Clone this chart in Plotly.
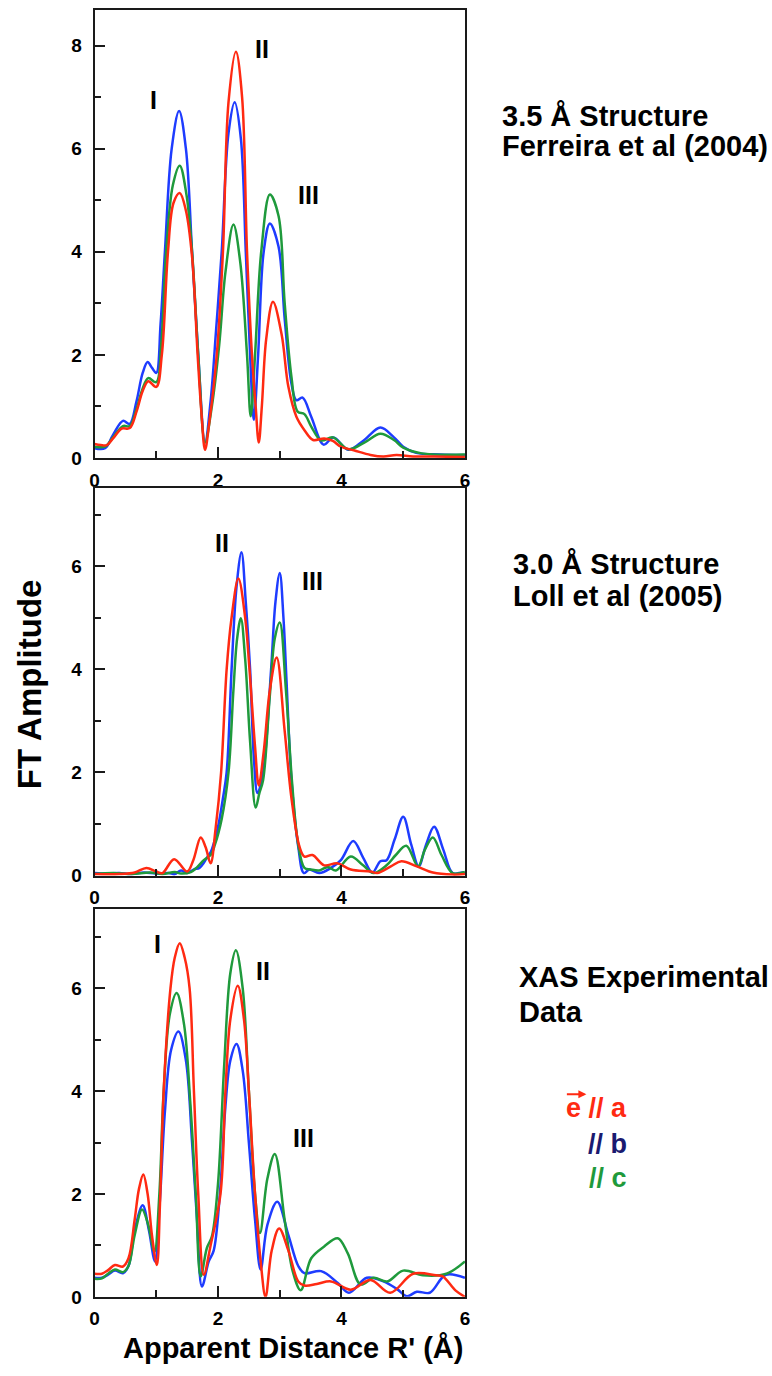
import plotly.graph_objects as go

W, H = 772, 1376

RED = "#ff2a12"
BLUE = "#1e3cff"
GREEN = "#1f9a3c"
NAVY = "#1a1a70"
INK = "#1a1a1a"

# ---------------- 3.5 Å structure (Ferreira et al 2004) ----------------
s35_a_r = [0, 0.1, 0.2, 0.3, 0.44, 0.57, 0.68, 0.78, 0.87, 1.0, 1.09, 1.19, 1.28, 1.38,
           1.48, 1.58, 1.67, 1.73, 1.79, 1.86, 1.98, 2.08, 2.17, 2.29, 2.39, 2.47, 2.55,
           2.61, 2.66, 2.71, 2.78, 2.89, 3.03, 3.14, 3.27, 3.4, 3.54, 3.72, 3.86, 3.99,
           4.2, 4.47, 4.68, 4.89, 5.16, 5.5, 6.0]
s35_a_amp = [0.27, 0.25, 0.25, 0.38, 0.57, 0.58, 0.9, 1.3, 1.49, 1.38, 2.0, 4.0, 4.95, 5.14,
             4.8, 3.9, 2.0, 0.9, 0.16, 0.7, 2.0, 4.0, 6.9, 7.88, 7.0, 4.0, 2.0,
             1.0, 0.3, 1.0, 2.3, 3.03, 2.4, 1.38, 0.8, 0.54, 0.35, 0.38, 0.33, 0.22,
             0.15, 0.06, 0.03, 0.06, 0.03, 0.03, 0.02]

s35_b_r = [0, 0.17, 0.3, 0.46, 0.57, 0.68, 0.78, 0.86, 0.93, 1.0, 1.07, 1.14, 1.25, 1.37,
           1.48, 1.58, 1.68, 1.79, 1.88, 1.97, 2.06, 2.17, 2.27, 2.37, 2.45, 2.52, 2.58,
           2.65, 2.74, 2.84, 2.98, 3.08, 3.19, 3.27, 3.37, 3.51, 3.71, 3.87, 4.11, 4.37,
           4.63, 4.85, 5.0, 5.21, 5.6, 6.0]
s35_b_amp = [0.19, 0.19, 0.45, 0.72, 0.66, 1.1, 1.65, 1.86, 1.75, 1.65, 2.6, 4.0, 6.0, 6.73,
             6.0, 4.0, 2.0, 0.3, 1.1, 2.5, 4.0, 6.3, 6.9, 6.2, 4.0, 2.0, 0.74,
             2.0, 4.0, 4.55, 4.1, 2.7, 1.44, 1.12, 1.17, 0.8, 0.26, 0.4, 0.16, 0.35,
             0.59, 0.4, 0.22, 0.1, 0.07, 0.06]

s35_c_r = [0, 0.17, 0.3, 0.46, 0.57, 0.68, 0.78, 0.87, 1.0, 1.08, 1.16, 1.27, 1.38, 1.49,
           1.58, 1.68, 1.79, 1.9, 2.02, 2.12, 2.25, 2.36, 2.47, 2.53, 2.6, 2.7, 2.84,
           2.98, 3.08, 3.19, 3.29, 3.4, 3.51, 3.67, 3.86, 4.11, 4.37, 4.63, 4.85, 5.0,
           5.3, 6.0]
s35_c_amp = [0.22, 0.22, 0.4, 0.62, 0.62, 0.95, 1.35, 1.55, 1.47, 2.2, 4.0, 5.3, 5.67, 5.1,
             4.0, 2.0, 0.3, 1.0, 2.2, 3.6, 4.53, 3.8, 2.0, 0.81, 2.0, 4.0, 5.11,
             4.7, 3.0, 1.57, 0.9, 0.85, 0.61, 0.34, 0.4, 0.17, 0.3, 0.47, 0.35, 0.2,
             0.09, 0.07]

# ---------------- 3.0 Å structure (Loll et al 2005) ----------------
s30_a_r = [0, 0.4, 0.65, 0.84, 1.0, 1.1, 1.29, 1.5, 1.6, 1.72, 1.8, 1.88, 1.96, 2.05,
           2.14, 2.22, 2.33, 2.44, 2.51, 2.6, 2.66, 2.74, 2.84, 2.95, 3.08, 3.19, 3.32,
           3.4, 3.53, 3.72, 3.93, 4.15, 4.47, 4.58, 4.8, 4.97, 5.22, 5.48, 5.8, 6.0]
s30_a_amp = [0.03, 0.03, 0.06, 0.15, 0.08, 0.05, 0.32, 0.08, 0.3, 0.74, 0.55, 0.24, 0.9, 2.0,
             4.0, 5.0, 5.76, 5.0, 4.0, 2.5, 1.75, 2.4, 3.6, 4.23, 2.8, 1.5, 0.56,
             0.37, 0.4, 0.2, 0.24, 0.12, 0.08, 0.05, 0.18, 0.28, 0.18, 0.06, 0.02, 0.03]

s30_b_r = [0, 0.2, 0.4, 0.6, 0.8, 1.0, 1.2, 1.3, 1.4, 1.5, 1.61, 1.7, 1.77, 1.82, 1.88,
           1.95, 2.01, 2.08, 2.14, 2.22, 2.3, 2.38, 2.45, 2.52, 2.58, 2.64, 2.73, 2.86,
           2.93, 3.0, 3.06, 3.11, 3.19, 3.3, 3.39, 3.48, 3.64, 3.83, 3.99, 4.19, 4.35,
           4.5, 4.63, 4.73, 4.86, 5.0, 5.13, 5.25, 5.37, 5.5, 5.65, 5.8, 5.96, 6.0]
s30_b_amp = [0.05, 0.04, 0.05, 0.03, 0.06, 0.04, 0.05, 0.03, 0.1, 0.05, 0.12, 0.15, 0.25, 0.35, 0.45,
             0.7, 1.0, 1.5, 2.0, 4.0, 5.6, 6.27, 5.3, 4.0, 2.3, 1.6, 2.0, 4.0,
             5.3, 5.87, 5.0, 3.77, 1.85, 0.56, 0.05, 0.12, 0.05, 0.15, 0.3, 0.67, 0.35,
             0.06, 0.28, 0.3, 0.7, 1.14, 0.6, 0.18, 0.6, 0.95, 0.5, 0.05, 0.06, 0.04]

s30_c_r = [0, 0.3, 0.6, 0.9, 1.1, 1.3, 1.4, 1.56, 1.65, 1.77, 1.88, 1.95, 2.06, 2.17,
           2.25, 2.31, 2.37, 2.44, 2.52, 2.61, 2.67, 2.73, 2.84, 2.92, 3.0, 3.1, 3.2,
           3.3, 3.4, 3.5, 3.64, 3.78, 3.91, 4.15, 4.35, 4.52, 4.73, 4.88, 5.05, 5.24,
           5.35, 5.48, 5.62, 5.8, 6.0]
s30_c_amp = [0.03, 0.05, 0.03, 0.06, 0.03, 0.07, 0.04, 0.07, 0.15, 0.3, 0.4, 0.6, 1.1, 2.0,
             3.6, 4.6, 4.99, 4.2, 2.6, 1.32, 1.6, 1.85, 3.5, 4.6, 4.91, 3.6, 1.8,
             0.6, 0.15, 0.12, 0.1, 0.17, 0.1, 0.37, 0.2, 0.05, 0.2, 0.4, 0.58, 0.18,
             0.5, 0.74, 0.4, 0.05, 0.07]

# ---------------- XAS experimental data ----------------
xas_a_r = [0, 0.12, 0.22, 0.33, 0.46, 0.55, 0.65, 0.72, 0.79, 0.86, 0.93, 1.01, 1.06, 1.12,
           1.23, 1.3, 1.38, 1.46, 1.54, 1.61, 1.68, 1.77, 1.88, 2.04, 2.12, 2.2, 2.32,
           2.42, 2.5, 2.6, 2.69, 2.77, 2.87, 2.99, 3.14, 3.3, 3.4, 3.6, 3.83, 4.15,
           4.47, 4.79, 5.16, 5.53, 5.64, 5.85, 6.0]
xas_a_amp = [0.45, 0.45, 0.52, 0.62, 0.59, 0.75, 1.5, 2.1, 2.38, 2.0, 1.2, 0.62, 1.8, 4.0,
             6.0, 6.6, 6.88, 6.6, 6.0, 4.0, 2.0, 0.43, 1.0, 2.0, 4.0, 5.4, 6.05,
             5.4, 4.0, 2.0, 0.7, 0.0, 0.9, 1.33, 0.9, 0.3, 0.22, 0.25, 0.3, 0.14,
             0.33, 0.08, 0.45, 0.42, 0.4, 0.12, 0.0]

xas_b_r = [0, 0.12, 0.22, 0.33, 0.46, 0.55, 0.65, 0.78, 0.88, 0.98, 1.06, 1.14, 1.24, 1.36,
           1.48, 1.58, 1.66, 1.74, 1.85, 1.93, 2.03, 2.12, 2.2, 2.3, 2.4, 2.5, 2.6,
           2.69, 2.8, 2.96, 3.14, 3.3, 3.4, 3.67, 3.94, 4.12, 4.41, 4.68, 4.9, 5.06,
           5.22, 5.43, 5.69, 6.0]
xas_b_amp = [0.37, 0.37, 0.43, 0.51, 0.46, 0.6, 1.3, 1.78, 1.3, 0.69, 1.9, 3.6, 4.8, 5.16,
             4.6, 3.0, 1.5, 0.2, 0.69, 0.9, 2.0, 3.7, 4.6, 4.92, 4.4, 3.0, 1.5,
             0.53, 1.4, 1.85, 1.2, 0.6, 0.46, 0.5, 0.27, 0.08, 0.37, 0.3, 0.15, 0.01,
             0.1, 0.08, 0.43, 0.37]

xas_c_r = [0, 0.12, 0.22, 0.33, 0.46, 0.55, 0.65, 0.77, 0.87, 0.97, 1.05, 1.12, 1.22, 1.33,
           1.45, 1.55, 1.64, 1.72, 1.82, 1.9, 2.0, 2.1, 2.2, 2.29, 2.4, 2.5, 2.6,
           2.68, 2.8, 2.92, 3.08, 3.21, 3.34, 3.51, 3.72, 3.94, 4.1, 4.31, 4.52, 4.74,
           5.0, 5.32, 5.7, 6.0]
xas_c_amp = [0.35, 0.36, 0.45, 0.53, 0.48, 0.6, 1.2, 1.7, 1.4, 0.87, 2.0, 4.0, 5.5, 5.91,
             5.3, 3.8, 2.0, 0.4, 0.95, 1.17, 2.2, 4.5, 6.3, 6.74, 6.0, 4.0, 2.0,
             1.24, 2.3, 2.78, 1.49, 0.5, 0.13, 0.75, 0.98, 1.14, 0.85, 0.24, 0.37, 0.3,
             0.51, 0.42, 0.45, 0.69]

# panel layout: (x data, y data) per polarisation, y-axis upper limit, panel pixel box
panels = [
    ([(s35_b_r, s35_b_amp), (s35_c_r, s35_c_amp), (s35_a_r, s35_a_amp)], 8.69, 10, 461.7),
    ([(s30_b_r, s30_b_amp), (s30_c_r, s30_c_amp), (s30_a_r, s30_a_amp)], 7.52, 491.7, 882.7),
    ([(xas_b_r, xas_b_amp), (xas_c_r, xas_c_amp), (xas_a_r, xas_a_amp)], 7.55, 916, 1307.3),
]
colors = [BLUE, GREEN, RED]
names = ["// b", "// c", "e // a"]

X_LEFT, X_RIGHT = 90.7, 466.0


def px(x):
    return x / W


def py(y):
    return 1 - y / H


fig = go.Figure()

axis_style = dict(
    showline=True, linecolor=INK, linewidth=1.6, mirror=True,
    ticks="inside", ticklen=11, tickwidth=1.6, tickcolor=INK,
    showgrid=False, zeroline=False,
    tickfont=dict(family="Liberation Sans", size=19, color="black", weight="bold"),
    tick0=0, dtick=2,
    minor=dict(ticks="inside", ticklen=7, tickwidth=1.6, tickcolor=INK, dtick=1, showgrid=False),
)

for i, (curves, ymax, top, bottom) in enumerate(panels):
    k = "" if i == 0 else str(i + 1)
    for (r, amp), col, nm in zip(curves, colors, names):
        fig.add_trace(go.Scatter(
            x=r, y=amp, mode="lines", name=nm, showlegend=False,
            line=dict(color=col, width=2.5, shape="spline", smoothing=1.0),
            xaxis="x" + k, yaxis="y" + k,
        ))
    fig.layout["xaxis" + k] = dict(axis_style, domain=[px(X_LEFT), px(X_RIGHT)],
                                   range=[0, 6], anchor="y" + k, ticklabelstandoff=4)
    fig.layout["yaxis" + k] = dict(axis_style, domain=[py(bottom), py(top)],
                                   range=[0, ymax], anchor="x" + k, ticklabelstandoff=7)

ann = []
bold = dict(family="Liberation Sans", weight="bold", color="black")


def label(text, x, y, size, color="black", xanchor="center", **kw):
    ann.append(dict(text=text, x=px(x), y=py(y), xref="paper", yref="paper",
                    showarrow=False, xanchor=xanchor, yanchor="middle",
                    font=dict(bold, size=size, color=color), **kw))


# shell labels
for t, x, y in [("I", 150, 101), ("II", 260, 49), ("III", 307, 197),
                ("II", 220, 547), ("III", 312, 586),
                ("I", 155, 952), ("II", 261, 979), ("III", 302, 1147)]:
    label(t, x, y, 25)

# panel captions
label("3.5 Å Structure", 502, 117, 29, xanchor="left")
label("Ferreira et al (2004)", 502, 147, 29, xanchor="left")
label("3.0 Å Structure", 513, 569, 29, xanchor="left")
label("Loll et al (2005)", 513, 601, 29, xanchor="left")
label("XAS Experimental", 519, 985, 29, xanchor="left")
label("Data", 519, 1020, 29, xanchor="left")

# polarisation key
label("e // a", 632, 1117, 27, color=RED, xanchor="right")
label("// b", 632, 1153, 27, color=NAVY, xanchor="right")
label("// c", 632, 1187, 27, color=GREEN, xanchor="right")
ann.append(dict(x=px(589), y=py(1103), ax=-21, ay=0, xref="paper", yref="paper",
                text="", showarrow=True, arrowhead=2, arrowsize=0.8, arrowwidth=2,
                arrowcolor=RED))

# axis titles
label("FT Amplitude", 25, 690, 33, textangle=-90)
label("Apparent Distance R' (Å)", 292, 1359, 29)

fig.update_layout(
    width=W, height=H, margin=dict(l=0, r=0, t=0, b=0),
    paper_bgcolor="white", plot_bgcolor="white",
    annotations=ann, showlegend=False,
)

fig.write_html("out.html")
